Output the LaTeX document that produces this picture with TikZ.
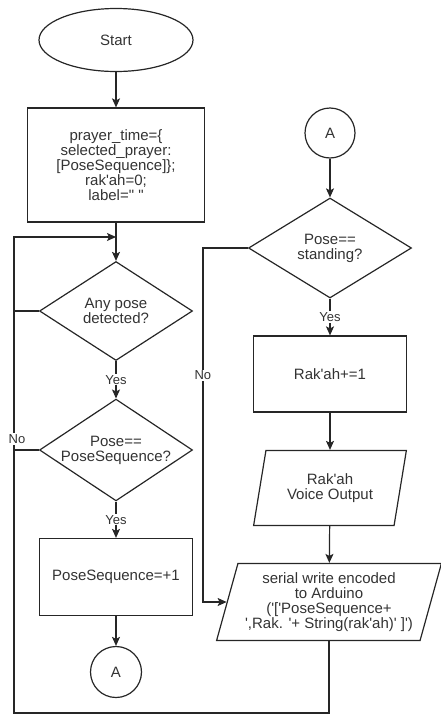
\documentclass[tikz,border=0pt]{standalone}
\usepackage{fontspec}
\newfontfamily\flowfont{Liberation Sans}
\usetikzlibrary{shapes.geometric,arrows.meta}
\begin{document}
\begin{tikzpicture}[x=1pt,y=-1pt,
	every node/.style={font=\flowfont\fontsize{15}{15}\selectfont,text=black!80,align=center},
	line/.style={draw=black!85,line width=1.2pt},
	arrow/.style={line,-{Stealth[length=9pt,width=8pt,inset=2pt]}},
	terminal/.style={ellipse,line,minimum width=154pt,minimum height=63pt},
	process/.style={rectangle,line,minimum width=153pt,minimum height=77pt},
	decision/.style={diamond,line,aspect=1.5,inner sep=0pt,minimum width=153pt,minimum height=99pt},
	io/.style={trapezium,trapezium left angle=76,trapezium right angle=104,
		trapezium stretches=true,line,minimum width=153pt,minimum height=75pt},
	connector/.style={circle,line,minimum size=51pt,inner sep=0pt},
	edgelabel/.style={font=\flowfont\fontsize{13}{13}\selectfont,fill=white,inner sep=1pt}]
\useasboundingbox (0,0) rectangle (440,715);
% left column
\node[terminal] (start) at (116,40) {Start};
\node[process,minimum width=177pt,minimum height=114pt] (init) at (116,165)
	{prayer\_time=\{\\selected\_prayer:\\{[PoseSequence]\}};\\rak'ah=0;\\label=" "};
\node[decision] (pose) at (116,311) {Any pose\\detected?};
\node[decision,minimum height=100pt] (seq) at (116,450) {Pose==\\PoseSequence?};
\node[process] (incseq) at (116,577) {PoseSequence=+1};
\node[connector] (outA) at (116,672) {A};
% right column
\node[connector,minimum size=50pt] (inA) at (330,133) {A};
\node[decision,minimum width=163pt,minimum height=100pt] (stand) at (330,248) {Pose==\\standing?};
\node[process,minimum height=76pt] (rakah) at (330,374) {Rak'ah+=1};
\node[io] (voice) at (330,488) {Rak'ah\\Voice Output};
\node[io,trapezium left angle=72.7,trapezium right angle=107.3,
	minimum width=225pt,minimum height=77pt] (serial) at (329,602)
	{serial write encoded\\to Arduino\\('['PoseSequence+\\',Rak. '+ String(rak'ah)' ]')};
% connectors
\coordinate (merge) at (116,237);
\coordinate (loopcorner) at (14,713);
\draw[arrow] (start) -- (init);
\draw[arrow] (init) -- (pose);
\draw[arrow] (pose) -- node[edgelabel]{Yes} (seq);
\draw[arrow] (seq) -- node[edgelabel]{Yes} (incseq);
\draw[arrow] (incseq) -- (outA);
\draw[arrow] (inA) -- (stand);
\draw[arrow] (stand) -- node[edgelabel]{Yes} (rakah);
\draw[arrow] (rakah) -- (voice);
\draw[arrow] (voice) -- (serial);
\draw[arrow] (stand.west) -- ++(-45,0) |- node[edgelabel,pos=0.18]{No} (serial.west);
\draw[arrow] (serial.south) |- (loopcorner) |- (merge);
\draw[line] (pose.west) -- (pose.west -| loopcorner);
\draw[line] (seq.west) -- node[edgelabel,pos=1,yshift=11pt,xshift=3pt]{No} (seq.west -| loopcorner);
\end{tikzpicture}
\end{document}
